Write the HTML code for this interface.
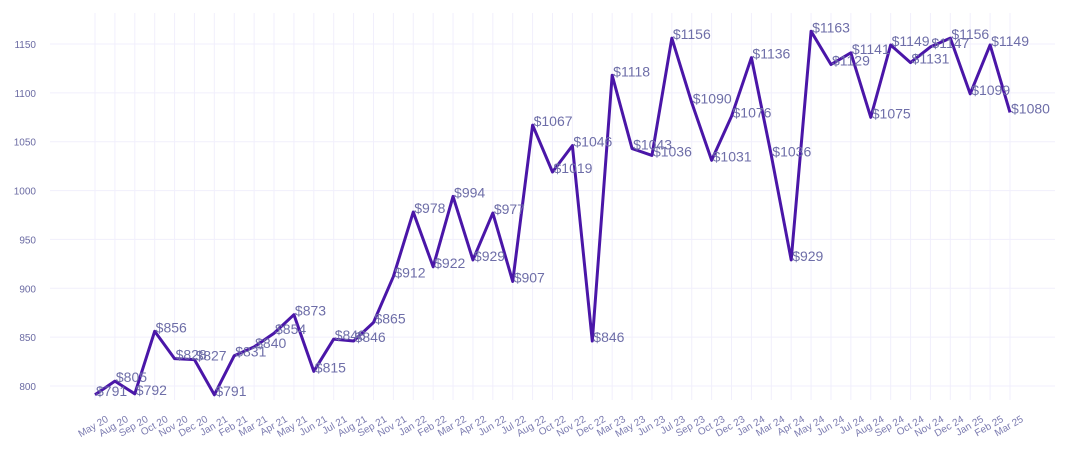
<!DOCTYPE html>
<html><head><meta charset="utf-8"><style>
body{margin:0;background:#fff}
svg{display:block;font-family:"Liberation Sans",sans-serif}
</style></head><body>
<svg id="chart" width="1070" height="465" viewBox="0 0 1070 465">
<g id="grid"></g>
<g id="yaxis"></g>
<g id="xaxis"></g>
<g id="series"></g>
</svg>
<script>
const categories=["May 20","Aug 20","Sep 20","Oct 20","Nov 20","Dec 20","Jan 21","Feb 21","Mar 21","Apr 21","May 21","Jun 21","Jul 21","Aug 21","Sep 21","Nov 21","Jan 22","Feb 22","Mar 22","Apr 22","Jun 22","Jul 22","Aug 22","Oct 22","Nov 22","Dec 22","Mar 23","May 23","Jun 23","Jul 23","Sep 23","Oct 23","Dec 23","Jan 24","Mar 24","Apr 24","May 24","Jun 24","Jul 24","Aug 24","Sep 24","Oct 24","Nov 24","Dec 24","Jan 25","Feb 25","Mar 25"];
const prices=[791,805,792,856,828,827,791,831,840,854,873,815,848,846,865,912,978,922,994,929,977,907,1067,1019,1046,846,1118,1043,1036,1156,1090,1031,1076,1136,1036,929,1163,1129,1141,1075,1149,1131,1147,1156,1099,1149,1080];
const yTicks=[800,850,900,950,1000,1050,1100,1150];

const NS="http://www.w3.org/2000/svg";
const x0=95,x1=1010,yRef0=800,yPix0=386,yRef1=1150,yPix1=44;
function xs(i){return x0+(x1-x0)*i/(categories.length-1);}
function ys(v){return yPix0+(v-yRef0)*(yPix1-yPix0)/(yRef1-yRef0);}
function mk(tag,attrs,parent){const e=document.createElementNS(NS,tag);for(const k in attrs)e.setAttribute(k,attrs[k]);parent.appendChild(e);return e;}
const grid=document.getElementById('grid'),yax=document.getElementById('yaxis'),xax=document.getElementById('xaxis'),ser=document.getElementById('series');

yTicks.forEach(t=>{
  const l=mk('line',{x1:50,x2:1055,y1:ys(t),y2:ys(t),stroke:'#f1effc','stroke-width':1},grid);
  
  
  const tx=mk('text',{x:36,y:ys(t)+4,'text-anchor':'end','font-size':10,fill:'#6b6ba3'},yax);
  tx.textContent=t;
  
  
});
categories.forEach((c,i)=>{
  const x=xs(i);
  const l=mk('line',{x1:x,x2:x,y1:13,y2:400,stroke:'#f1effc','stroke-width':1},grid);
  
  
  const tx=mk('text',{x:0,y:0,'text-anchor':'end','font-size':10,fill:'#7b7bb0',transform:`translate(${x+14},${421}) rotate(-30)`},xax);
  tx.textContent=c;
  
  
});
const pts=prices.map((v,i)=>xs(i)+','+ys(v)).join(' ');
const pl=mk('polyline',{points:pts,fill:'none',stroke:'#4a16a8','stroke-width':3,'stroke-linejoin':'round'},ser);


prices.forEach((v,i)=>{
  const tx=mk('text',{x:xs(i)+1,y:ys(v)+1,'font-size':14,fill:'#6e6ea8'},ser);
  tx.textContent='$'+v;
  
  
});
</script>
</body></html>
